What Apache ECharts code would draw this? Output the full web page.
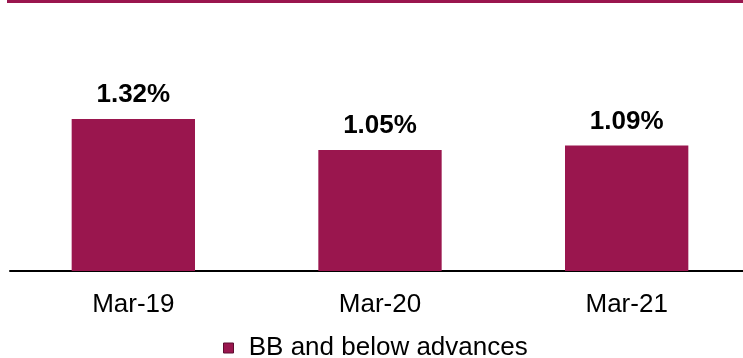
<!DOCTYPE html>
<html>
<head>
<meta charset="utf-8">
<script src="https://cdn.jsdelivr.net/npm/echarts@6/dist/echarts.min.js"></script>
<style>
  html, body { margin: 0; padding: 0; background: #fff; }
  #main { width: 743px; height: 358px; }
</style>
</head>
<body>
<div id="main"></div>
<script>
// data
const categories = ['Mar-19', 'Mar-20', 'Mar-21'];
const bbValues = [1.32, 1.05, 1.09];
const seriesName = 'BB and below advances';

const chart = echarts.init(document.getElementById('main'));

const option = {
  animation: false,
  backgroundColor: '#fff',
  graphic: [
    {
      type: 'rect',
      left: 7,
      top: 0,
      shape: { width: 736, height: 3 },
      style: { fill: '#9A164E' }
    }
  ],
  grid: {
    left: 10,
    width: 740,
    top: 40.6,
    bottom: 87,
    outerBoundsMode: 'none'
  },
  legend: {
    top: 330,
    left: 218,
    itemWidth: 10,
    itemHeight: 10,
    icon: 'rect',
    formatter: name => ' ' + name,
    textStyle: {
      fontFamily: 'Liberation Sans, Arial',
      fontSize: 26,
      color: '#000',
      padding: [0, 0, 0, 3]
    },
    data: [{
      name: seriesName,
      itemStyle: { color: '#9A164E', borderColor: '#5e0d30', borderWidth: 1 }
    }]
  },
  xAxis: {
    type: 'category',
    data: categories,
    axisLine: { lineStyle: { color: '#000', width: 2 } },
    axisTick: { show: false },
    axisLabel: {
      margin: 21,
      fontFamily: 'Liberation Sans, Arial',
      fontSize: 26,
      color: '#000'
    }
  },
  yAxis: {
    type: 'value',
    min: 0,
    max: 2,
    show: false,
    splitLine: { show: false }
  },
  series: [
    {
      name: seriesName,
      type: 'bar',
      data: bbValues,
      barWidth: '50%',
      itemStyle: { color: '#9A164E' },
      label: {
        show: true,
        position: 'top',
        distance: 11,
        formatter: p => p.value.toFixed(2) + '%',
        fontFamily: 'Liberation Sans, Arial',
        fontWeight: 'bold',
        fontSize: 26,
        color: '#000'
      }
    }
  ]
};

chart.setOption(option);
</script>
</body>
</html>
